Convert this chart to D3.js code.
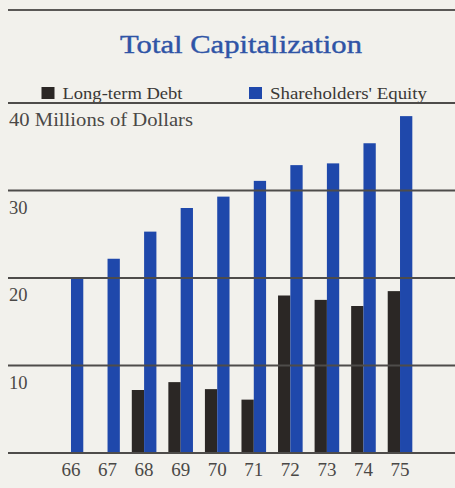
<!DOCTYPE html>
<html>
<head>
<meta charset="utf-8">
<script src="https://cdn.jsdelivr.net/npm/d3@7/dist/d3.min.js"></script>
<style>
  html, body { margin: 0; padding: 0; background: #f2f1ec; }
  svg { display: block; }
  text { font-family: "Liberation Serif", "DejaVu Serif", serif; }
</style>
</head>
<body>
<svg id="chart" width="455" height="488"></svg>
<script>
// Fiscal years and capitalization (millions of dollars)
const years = ["66", "67", "68", "69", "70", "71", "72", "73", "74", "75"];
const longTermDebt = [0, 0, 7.2, 8.1, 7.3, 6.1, 18.0, 17.5, 16.8, 18.5];
const shareholdersEquity = [20.1, 22.2, 25.3, 28.0, 29.3, 31.1, 32.9, 33.1, 35.4, 38.5];
const yTicks = [10, 20, 30, 40];
const seriesNames = ["Long-term Debt", "Shareholders' Equity"];
const seriesColors = ["#2b2725", "#1f48ab"];

const svg = d3.select("#chart");
const W = 455;

const x = d3.scaleBand().domain(years).range([52.7, 418.3]).padding(0);
const inner = d3.scaleBand().domain(seriesNames).range([-12.3, 12.3]).padding(0);
const y = d3.scaleLinear().domain([0, 40]).range([453, 103]);

// top rule
svg.append("line")
  .attr("x1", 8).attr("x2", W).attr("y1", 10).attr("y2", 10)
  .attr("stroke", "#5a5856").attr("stroke-width", 2);

// title
svg.append("text")
  .attr("x", 120).attr("y", 53)
  .attr("font-size", 26)
  .attr("textLength", 242).attr("lengthAdjust", "spacingAndGlyphs")
  .attr("fill", "#2f54a6").attr("stroke", "#2f54a6").attr("stroke-width", 0.4)
  .text("Total Capitalization");

// legend
const legendX = [41.5, 249];
const legendLen = [120, 157];
seriesNames.forEach((name, i) => {
  const g = svg.append("g").attr("transform", `translate(${legendX[i]},0)`);
  g.append("rect").attr("x", 0).attr("y", 87).attr("width", 13).attr("height", 12)
    .attr("fill", seriesColors[i]);
  g.append("text").attr("x", 21).attr("y", 99)
    .attr("font-size", 17).attr("fill", "#3a3836")
    .attr("textLength", legendLen[i]).attr("lengthAdjust", "spacingAndGlyphs")
    .text(name);
});

// bars
const rows = years.map((yr, i) => ({ yr, values: [longTermDebt[i], shareholdersEquity[i]] }));
const groups = svg.append("g").selectAll("g").data(rows).join("g")
  .attr("transform", d => `translate(${x(d.yr) + x.bandwidth() / 2},0)`);
groups.selectAll("rect")
  .data(d => d.values.map((v, i) => ({ name: seriesNames[i], v, color: seriesColors[i] })).filter(e => e.v > 0))
  .join("rect")
  .attr("x", d => inner(d.name))
  .attr("width", inner.bandwidth())
  .attr("y", d => y(d.v))
  .attr("height", d => y(0) - y(d.v))
  .attr("fill", d => d.color);

// horizontal rules at each tick and baseline (drawn over bars)
const grid = svg.append("g");
grid.selectAll("line").data([0].concat(yTicks)).join("line")
  .attr("x1", 8).attr("x2", W)
  .attr("y1", d => y(d)).attr("y2", d => y(d))
  .attr("stroke", "#4e4c4a").attr("stroke-width", 2);

// y tick labels sit just below each rule
svg.append("g").selectAll("text").data(yTicks).join("text")
  .attr("x", 9).attr("y", d => y(d) + 23)
  .attr("font-size", 18.5).attr("fill", "#4a4846")
  .each(function (d) {
    if (d === 40) {
      d3.select(this).attr("textLength", 184).attr("lengthAdjust", "spacingAndGlyphs");
    }
  })
  .text(d => d === 40 ? "40 Millions of Dollars" : d);

// x labels
const xAxis = d3.axisBottom(x).tickSize(0).tickPadding(0);
const xg = svg.append("g").attr("transform", `translate(0,${y(0)})`).call(xAxis);
xg.select(".domain").remove();
xg.selectAll("text")
  .attr("y", 23).attr("dy", 0)
  .attr("font-size", 19).attr("fill", "#4a4846")
  .style("font-family", "'Liberation Serif', serif");
</script>
</body>
</html>
